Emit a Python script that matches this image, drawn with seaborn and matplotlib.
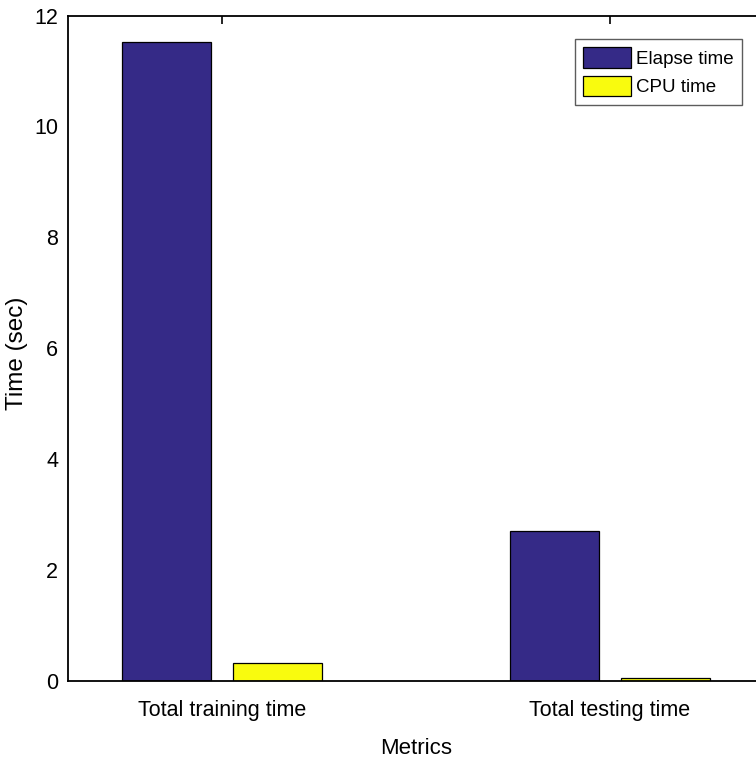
import matplotlib
matplotlib.use("Agg")
import matplotlib.pyplot as plt
import seaborn as sns
import pandas as pd

metrics = ["Total training time", "Total testing time"]
series = ["Elapse time", "CPU time"]
elapse_time = [11.52, 2.70]
cpu_time = [0.32, 0.05]
y_ticks = [0, 2, 4, 6, 8, 10, 12]

palette = {"Elapse time": "#352A87", "CPU time": "#F9FB0E"}

df = pd.DataFrame({
    "Metrics": metrics * 2,
    "Series": [series[0]] * 2 + [series[1]] * 2,
    "Time": elapse_time + cpu_time,
})

sns.set_style("white")
plt.rcParams["font.family"] = ["Liberation Sans", "DejaVu Sans"]
plt.rcParams["text.color"] = "black"
plt.rcParams["axes.labelcolor"] = "black"

fig = plt.figure(figsize=(7.56, 7.61), dpi=100)
ax = fig.add_axes([68 / 756, 1 - 681 / 761, 697 / 756, (681 - 15.5) / 761])

sns.barplot(data=df, x="Metrics", y="Time", hue="Series", order=metrics,
            hue_order=series, palette=palette, width=0.572, gap=0.196,
            edgecolor="black", linewidth=0.9, saturation=1, ax=ax)

ax.set_xlim(-0.398, 1.4)
ax.set_ylim(0, 12)
ax.set_yticks(y_ticks)
ax.set_yticklabels([str(v) for v in y_ticks])
ax.set_xlabel("Metrics", fontsize=16, labelpad=12)
ax.set_ylabel("Time (sec)", fontsize=17.5)
ax.yaxis.set_label_coords(-40 / 697, 0.492)
ax.tick_params(direction="in", length=6, width=1.2, top=True, right=True,
               labelsize=15.5, colors="black")
ax.tick_params(axis="x", pad=14)
ax.tick_params(axis="y", pad=7)
for s in ax.spines.values():
    s.set_visible(True)
    s.set_color("black")
    s.set_linewidth(1.3)

leg = ax.legend(loc="upper right", bbox_to_anchor=(742 / 756, 1 - 39 / 761),
                bbox_transform=fig.transFigure, borderaxespad=0,
                fontsize=13.5, frameon=True, fancybox=False, edgecolor="#333333",
                handlelength=2.55, handleheight=1.28, handletextpad=0.27,
                labelspacing=0.43, borderpad=0.45)
leg.get_frame().set_linewidth(1.0)
for t in leg.get_texts():
    t.set_color("black")

fig.savefig("out.png", dpi=100)
